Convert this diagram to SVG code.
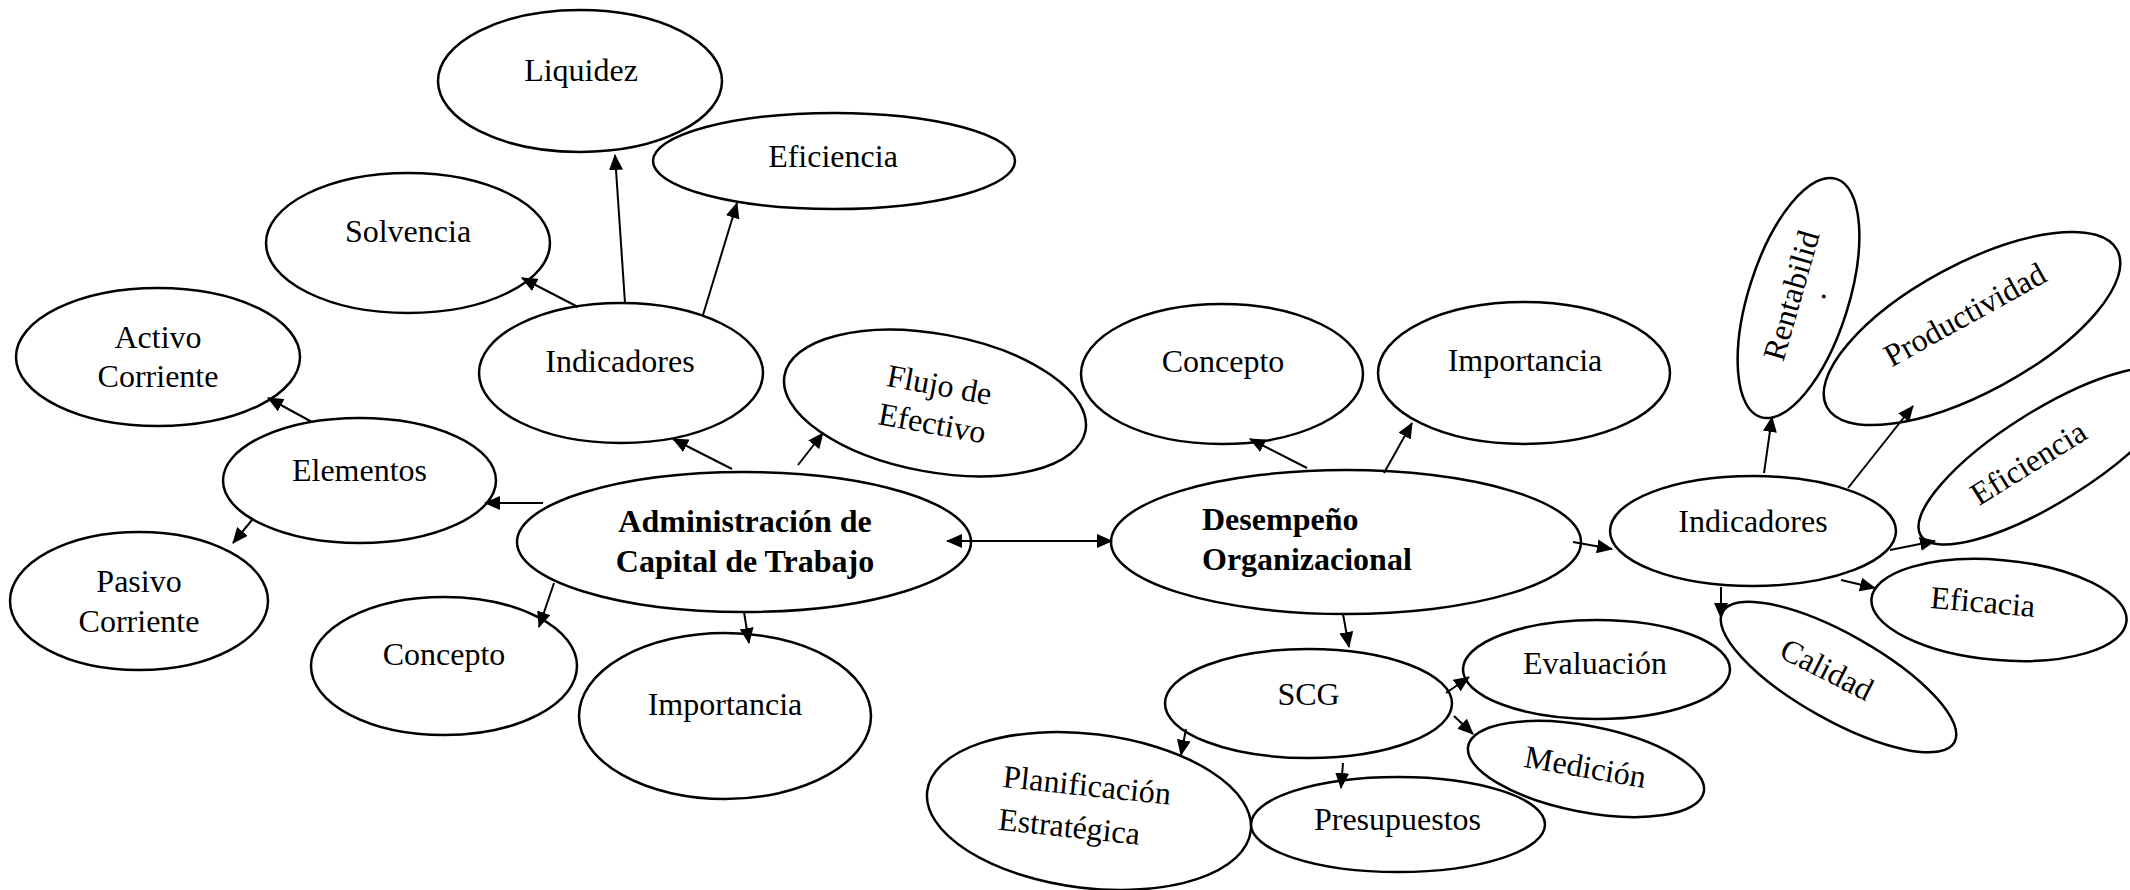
<svg xmlns="http://www.w3.org/2000/svg" width="2130" height="890" viewBox="0 0 2130 890">
<defs>
<style>
ellipse{fill:#fff;stroke:#000;stroke-width:2.5}
text{font-family:"Liberation Serif","Times New Roman",serif;font-size:32px;fill:#000}
.c{text-anchor:middle}
.b{font-weight:bold}
#connectors line{stroke:#000;stroke-width:2;marker-end:url(#ah)}
</style>
<marker id="ah" markerWidth="16" markerHeight="14" refX="15" refY="7" orient="auto-start-reverse" markerUnits="userSpaceOnUse"><path d="M0,0 L16,7 L0,14 z" fill="#000"/></marker>
</defs>
<rect width="2130" height="890" fill="#fff"/>

<g id="liquidez"><ellipse cx="580" cy="81" rx="142" ry="71"/><text class="c" x="581" y="81">Liquidez</text></g>
<g id="eficiencia-left"><ellipse cx="834" cy="161" rx="181" ry="48"/><text class="c" x="833" y="167">Eficiencia</text></g>
<g id="solvencia"><ellipse cx="408" cy="243" rx="142" ry="70"/><text class="c" x="408" y="242">Solvencia</text></g>
<g id="activo-corriente"><ellipse cx="158" cy="357" rx="142" ry="69"/><text class="c" x="158" y="348">Activo</text><text class="c" x="158" y="387">Corriente</text></g>
<g id="indicadores-left"><ellipse cx="621" cy="373" rx="142" ry="70"/><text class="c" x="620" y="372">Indicadores</text></g>
<g id="flujo-efectivo" transform="rotate(10.4 935 403)"><ellipse cx="935" cy="403" rx="153" ry="69"/><text class="c" x="936" y="395">Flujo de</text><text class="c" x="936" y="434">Efectivo</text></g>
<g id="elementos"><ellipse cx="359.5" cy="480.5" rx="136.5" ry="62.5"/><text class="c" x="359.5" y="481">Elementos</text></g>
<g id="pasivo-corriente"><ellipse cx="139" cy="601" rx="129" ry="69"/><text class="c" x="139" y="592">Pasivo</text><text class="c" x="139" y="632">Corriente</text></g>
<g id="administracion"><ellipse cx="744" cy="542" rx="227" ry="70"/><text class="c b" x="745" y="532">Administración de</text><text class="c b" x="745" y="572">Capital de Trabajo</text></g>
<g id="concepto-left"><ellipse cx="444" cy="666" rx="133" ry="69"/><text class="c" x="444" y="665">Concepto</text></g>
<g id="importancia-left"><ellipse cx="725" cy="716" rx="146" ry="83"/><text class="c" x="725" y="715">Importancia</text></g>

<g id="concepto-right"><ellipse cx="1222" cy="374" rx="141" ry="70"/><text class="c" x="1223" y="372">Concepto</text></g>
<g id="importancia-right"><ellipse cx="1524" cy="373" rx="146" ry="71"/><text class="c" x="1525" y="371">Importancia</text></g>
<g id="desempeno"><ellipse cx="1346" cy="542" rx="235" ry="72"/><text class="b" x="1202" y="530">Desempeño</text><text class="b" x="1202" y="570">Organizacional</text></g>
<g id="rentabilidad"><ellipse cx="1798.5" cy="298" rx="50" ry="125" transform="rotate(17.6 1798.5 298)"/><text class="c" transform="translate(1801.5 298.5) rotate(-74)">Rentabilid</text><text class="c" transform="translate(1825 297) rotate(-74)">.</text></g>
<g id="productividad"><ellipse cx="1972" cy="328.5" rx="165" ry="64" transform="rotate(-28.4 1972 328.5)"/><text class="c" transform="translate(1970 324) rotate(-29)">Productividad</text></g>
<g id="eficiencia-right"><ellipse cx="2048" cy="456" rx="150" ry="46" transform="rotate(-32 2048 456)"/><text class="c" transform="translate(2034 472) rotate(-32)">Eficiencia</text></g>
<g id="indicadores-right"><ellipse cx="1753" cy="531" rx="143" ry="55"/><text class="c" x="1753" y="532">Indicadores</text></g>
<g id="eficacia"><ellipse cx="1999" cy="610" rx="128" ry="50" transform="rotate(5 1999 610)"/><text class="c" transform="translate(1982 612.5) rotate(5)">Eficacia</text></g>
<g id="calidad"><ellipse cx="1838.5" cy="677" rx="133" ry="43" transform="rotate(29.4 1838.5 677)"/><text class="c" transform="translate(1822 679) rotate(27)">Calidad</text></g>
<g id="scg"><ellipse cx="1308.5" cy="703.5" rx="143.5" ry="54.5"/><text class="c" x="1308.5" y="705">SCG</text></g>
<g id="evaluacion"><ellipse cx="1596.5" cy="669.5" rx="133.5" ry="49.5"/><text class="c" x="1595" y="674">Evaluación</text></g>
<g id="medicion"><ellipse cx="1586" cy="769" rx="120" ry="43" transform="rotate(11 1586 769)"/><text class="c" transform="translate(1583.5 777.5) rotate(10)">Medición</text></g>
<g id="planificacion"><ellipse cx="1089" cy="811" rx="163" ry="77" transform="rotate(7 1089 811)"/><g transform="rotate(6 1002 787)"><text x="1002" y="787">Planificación</text><text x="1002" y="830">Estratégica</text></g></g>
<g id="presupuestos"><ellipse cx="1398" cy="824.5" rx="147" ry="47.5"/><text class="c" x="1397.5" y="830">Presupuestos</text></g>

<g id="connectors">
<line x1="578" y1="307" x2="522" y2="278"/>
<line x1="625" y1="303" x2="615" y2="155"/>
<line x1="703" y1="315" x2="737" y2="203"/>
<line x1="732" y1="469" x2="673" y2="439"/>
<line x1="798" y1="465" x2="823" y2="433"/>
<line x1="543" y1="503" x2="485" y2="503"/>
<line x1="312" y1="422" x2="268" y2="398"/>
<line x1="252" y1="520" x2="233" y2="543"/>
<line x1="554" y1="583" x2="539" y2="627"/>
<line x1="744" y1="612" x2="749" y2="643"/>
<line x1="947" y1="541" x2="1112" y2="541" style="marker-start:url(#ah)"/>
<line x1="1307" y1="468" x2="1250" y2="439"/>
<line x1="1384" y1="473" x2="1412" y2="423"/>
<line x1="1573" y1="542" x2="1612" y2="549"/>
<line x1="1343" y1="614" x2="1349" y2="647"/>
<line x1="1764" y1="473" x2="1772" y2="417"/>
<line x1="1848" y1="488" x2="1913" y2="406"/>
<line x1="1890" y1="550" x2="1935" y2="541"/>
<line x1="1841" y1="580" x2="1875" y2="588"/>
<line x1="1721" y1="587" x2="1721" y2="618"/>
<line x1="1446" y1="693" x2="1469" y2="677"/>
<line x1="1454" y1="716" x2="1473" y2="734"/>
<line x1="1186" y1="729" x2="1181" y2="755"/>
<line x1="1343" y1="763" x2="1341" y2="788"/>
</g>
</svg>
